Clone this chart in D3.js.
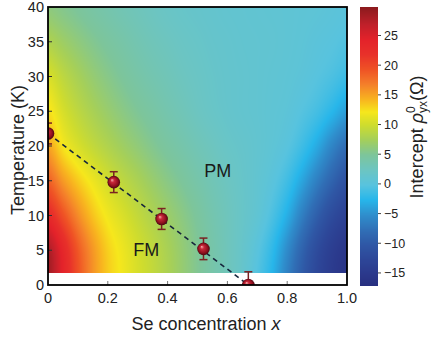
<!DOCTYPE html>
<html>
<head>
<meta charset="utf-8">
<script src="https://cdn.jsdelivr.net/npm/d3@7"></script>
<style>
  html, body { margin: 0; padding: 0; background: #fff; }
  svg { display: block; font-family: "Liberation Sans", Arial, Helvetica, sans-serif; }
</style>
</head>
<body>
<svg id="chart" width="431" height="343"></svg>
<script>
// Se concentration grid (columns) and temperature grid (rows, K)
const concentration = [0, 0.05, 0.1, 0.15, 0.2, 0.25, 0.3, 0.35, 0.4, 0.45, 0.5,
                       0.55, 0.6, 0.65, 0.7, 0.75, 0.8, 0.85, 0.9, 0.95, 1.0];
const temperature = [0, 5, 10, 15, 20, 25, 30, 35, 40];

// Intercept rho_yx^0 (Ohm), one row per temperature
const intercept = [
  [28.5, 24.0, 19.5, 15.8, 13.3, 11.8, 10.4, 9.2, 7.9, 6.5, 5.2, 3.9, 2.9, 1.5, -0.5, -3.0, -6.5, -10.0, -12.8, -14.8, -16.0],
  [28.0, 23.5, 19.0, 15.6, 13.1, 11.6, 10.2, 9.0, 7.7, 6.4, 5.1, 3.9, 2.8, 1.6, 0.0, -2.2, -5.5, -9.0, -12.0, -14.2, -15.5],
  [23.0, 19.5, 16.2, 13.6, 11.8, 10.5, 9.2, 8.0, 6.9, 5.8, 4.7, 3.6, 2.7, 1.8, 0.8, -0.8, -3.2, -6.5, -9.5, -12.0, -13.5],
  [18.5, 15.5, 13.3, 11.6, 10.1, 8.9, 7.8, 6.7, 5.7, 4.8, 3.9, 3.1, 2.4, 1.7, 1.0, 0.1, -1.4, -3.8, -6.5, -9.0, -11.0],
  [15.0, 12.2, 10.5, 9.2, 8.1, 7.1, 6.2, 5.3, 4.5, 3.8, 3.1, 2.5, 1.9, 1.5, 1.1, 0.6, -0.1, -1.5, -3.5, -6.0, -8.0],
  [12.5, 10.4, 8.9, 7.7, 6.7, 5.8, 5.0, 4.3, 3.6, 3.0, 2.4, 1.9, 1.5, 1.2, 1.0, 0.7, 0.4, -0.3, -1.2, -2.6, -4.2],
  [10.5, 8.9, 7.6, 6.5, 5.6, 4.8, 4.1, 3.5, 3.0, 2.5, 2.1, 1.7, 1.4, 1.2, 1.0, 0.8, 0.6, 0.3, -0.2, -0.8, -1.6],
  [8.0, 7.0, 6.1, 5.3, 4.6, 4.0, 3.4, 2.9, 2.5, 2.1, 1.8, 1.5, 1.3, 1.1, 1.0, 0.9, 0.7, 0.5, 0.2, -0.1, -0.5],
  [6.0, 5.4, 4.8, 4.2, 3.7, 3.2, 2.8, 2.4, 2.0, 1.7, 1.5, 1.3, 1.1, 1.0, 0.9, 0.8, 0.7, 0.6, 0.5, 0.3, 0.1]
];
const lowestTemperature = 1.7;   // no data below this temperature

// Curie temperature T_C(x) with error bars
const tcX = [0, 0.22, 0.38, 0.52, 0.67];
const tcT = [21.8, 14.8, 9.5, 5.2, 0];
const tcErr = [1.5, 1.5, 1.5, 1.55, 1.9];

// Linear guide through T_C(x)
const fitX = [0, 0.67];
const fitT = [21.8, 0];

// Axis ticks
const xTicks = [0, 0.2, 0.4, 0.6, 0.8, 1.0];
const xTickLabels = ["0", "0.2", "0.4", "0.6", "0.8", "1.0"];
const yTicks = [0, 5, 10, 15, 20, 25, 30, 35, 40];
const cbTicks = [-15, -10, -5, 0, 5, 10, 15, 20, 25];
const cbDomain = [-17.2, 29.8];

// Colormap stops
const cmapValues = [-17.2, -15.3, -12.8, -10.3, -7.8, -5.2, -2.7, -0.2, 2.3, 4.9, 7.4, 9.9, 12.1, 14.2, 16.7, 19.2, 21.8, 24.3, 26.8, 29.8];
const cmapColors = ["#272f7f", "#2b388b", "#2d4698", "#2f57a5", "#306fb6", "#2f8fcd", "#27b6ea", "#58c3de",
                    "#6cc5c2", "#7dc59a", "#a4cf5a", "#cedc2e", "#f6e71c", "#f8b41f", "#f4802a", "#ef5325",
                    "#e8312a", "#e3222a", "#c0202a", "#8b1a1d"];

const svg = d3.select("#chart");
const plot = { left: 48, right: 347, top: 7, bottom: 285 };
const cb = { left: 360, right: 378, top: 7, bottom: 286 };

const x = d3.scaleLinear().domain([0, 1]).range([plot.left, plot.right]);
const y = d3.scaleLinear().domain([0, 40]).range([plot.bottom, plot.top]);
const color = d3.scaleLinear().domain(cmapValues).range(cmapColors)
  .interpolate(d3.interpolateRgb).clamp(true);

// Catmull-Rom bicubic sampling of the intercept grid
function cubic(p0, p1, p2, p3, t) {
  return 0.5 * (2 * p1 + (-p0 + p2) * t + (2 * p0 - 5 * p1 + 4 * p2 - p3) * t * t
    + (-p0 + 3 * p1 - 3 * p2 + p3) * t * t * t);
}
const nx = concentration.length, ny = temperature.length;
const dxGrid = concentration[1] - concentration[0];
const dyGrid = temperature[1] - temperature[0];
function at(j, i) {
  j = Math.max(0, Math.min(ny - 1, j));
  i = Math.max(0, Math.min(nx - 1, i));
  return intercept[j][i];
}
function sample(xv, tv) {
  const gx = Math.max(0, Math.min(nx - 1 - 1e-9, (xv - concentration[0]) / dxGrid));
  const gy = Math.max(0, Math.min(ny - 1 - 1e-9, (tv - temperature[0]) / dyGrid));
  const i = Math.floor(gx), j = Math.floor(gy);
  const tx = gx - i, ty = gy - j;
  const rows = [];
  for (let k = -1; k <= 2; k++) {
    rows.push(cubic(at(j + k, i - 1), at(j + k, i), at(j + k, i + 1), at(j + k, i + 2), tx));
  }
  return cubic(rows[0], rows[1], rows[2], rows[3], ty);
}

// Heat map raster
const yTopPx = Math.round(y(40)), yBotPx = Math.round(y(lowestTemperature));
const W = plot.right - plot.left, H = yBotPx - yTopPx;
const canvas = document.createElement("canvas");
canvas.width = W; canvas.height = H;
const ctx = canvas.getContext("2d");
const img = ctx.createImageData(W, H);
for (let r = 0; r < H; r++) {
  const tv = y.invert(yTopPx + r + 0.5);
  for (let c = 0; c < W; c++) {
    const xv = x.invert(plot.left + c + 0.5);
    const col = d3.rgb(color(sample(xv, tv)));
    const k = 4 * (r * W + c);
    img.data[k] = col.r; img.data[k + 1] = col.g; img.data[k + 2] = col.b; img.data[k + 3] = 255;
  }
}
ctx.putImageData(img, 0, 0);
svg.append("image")
  .attr("x", plot.left).attr("y", yTopPx).attr("width", W).attr("height", H)
  .attr("preserveAspectRatio", "none")
  .attr("href", canvas.toDataURL());

// Clip for marks inside the frame
const defs = svg.append("defs");
defs.append("clipPath").attr("id", "plotClip").append("rect")
  .attr("x", plot.left).attr("y", plot.top)
  .attr("width", plot.right - plot.left).attr("height", plot.bottom - plot.top);
const grad = defs.append("radialGradient").attr("id", "sphere")
  .attr("cx", "50%").attr("cy", "50%").attr("r", "50%").attr("fx", "35%").attr("fy", "32%");
grad.append("stop").attr("offset", "0%").attr("stop-color", "#f5b3b3");
grad.append("stop").attr("offset", "30%").attr("stop-color", "#c8283a");
grad.append("stop").attr("offset", "75%").attr("stop-color", "#8e0f1e");
grad.append("stop").attr("offset", "100%").attr("stop-color", "#4a0810");

// Axis ticks (inward)
const tickG = svg.append("g");
tickG.selectAll("line.xt").data(xTicks.slice(1, -1)).join("line")
  .attr("x1", d => x(d)).attr("x2", d => x(d))
  .attr("y1", plot.bottom).attr("y2", plot.bottom - 4)
  .attr("stroke", "#777").attr("stroke-width", 1);
tickG.selectAll("line.yt").data(yTicks.slice(1, -1)).join("line")
  .attr("x1", plot.left).attr("x2", plot.left + 4)
  .attr("y1", d => y(d)).attr("y2", d => y(d))
  .attr("stroke", "#333").attr("stroke-width", 1);

// Marks
const marks = svg.append("g").attr("clip-path", "url(#plotClip)");
marks.append("path")
  .attr("d", d3.line().x(d => x(d[0])).y(d => y(d[1]))(fitX.map((v, i) => [v, fitT[i]])))
  .attr("fill", "none").attr("stroke", "#16263d").attr("stroke-width", 1.6)
  .attr("stroke-dasharray", "5,4");

const pts = tcX.map((v, i) => ({ x: v, t: tcT[i], e: tcErr[i] }));
const eb = marks.selectAll("g.err").data(pts).join("g");
eb.append("line")
  .attr("x1", d => x(d.x)).attr("x2", d => x(d.x))
  .attr("y1", d => y(d.t - d.e)).attr("y2", d => y(d.t + d.e))
  .attr("stroke", "#7a2222").attr("stroke-width", 1.5);
eb.append("line")
  .attr("x1", d => x(d.x) - 4).attr("x2", d => x(d.x) + 4)
  .attr("y1", d => y(d.t + d.e)).attr("y2", d => y(d.t + d.e))
  .attr("stroke", "#7a2222").attr("stroke-width", 1.5);
eb.append("line")
  .attr("x1", d => x(d.x) - 4).attr("x2", d => x(d.x) + 4)
  .attr("y1", d => y(d.t - d.e)).attr("y2", d => y(d.t - d.e))
  .attr("stroke", "#7a2222").attr("stroke-width", 1.5);
marks.selectAll("circle").data(pts).join("circle")
  .attr("cx", d => x(d.x)).attr("cy", d => y(d.t)).attr("r", 6.3)
  .attr("fill", "url(#sphere)");

// Phase labels
svg.append("text").attr("x", x(0.568)).attr("y", y(16.5) + 6.5)
  .attr("text-anchor", "middle").attr("font-size", 18).attr("fill", "#1a1a1a").text("PM");
svg.append("text").attr("x", x(0.329)).attr("y", y(5.1) + 6.5)
  .attr("text-anchor", "middle").attr("font-size", 18).attr("fill", "#1a1a1a").text("FM");

// Frame
svg.append("rect")
  .attr("x", plot.left).attr("y", plot.top)
  .attr("width", plot.right - plot.left).attr("height", plot.bottom - plot.top)
  .attr("fill", "none").attr("stroke", "#000").attr("stroke-width", 1.8);

// Tick labels
svg.append("g").selectAll("text").data(xTicks).join("text")
  .attr("x", d => x(d)).attr("y", 303)
  .attr("text-anchor", "middle").attr("font-size", 14.5).attr("fill", "#222")
  .text((d, i) => xTickLabels[i]);
svg.append("g").selectAll("text").data(yTicks).join("text")
  .attr("x", 44).attr("y", d => y(d) + 5.2)
  .attr("text-anchor", "end").attr("font-size", 14.5).attr("fill", "#222")
  .text(d => d);

// Axis titles
const xt = svg.append("text").attr("x", 206).attr("y", 330)
  .attr("text-anchor", "middle").attr("font-size", 18).attr("fill", "#222");
xt.append("tspan").text("Se concentration ");
xt.append("tspan").attr("font-style", "italic").text("x");

svg.append("text").attr("transform", "translate(24,150) rotate(-90)")
  .attr("text-anchor", "middle").attr("font-size", 18).attr("fill", "#222")
  .text("Temperature (K)");

// Colour bar
const cy = d3.scaleLinear().domain(cbDomain).range([cb.bottom, cb.top]);
const cbCanvas = document.createElement("canvas");
const cbH = cb.bottom - cb.top;
cbCanvas.width = 1; cbCanvas.height = cbH;
const cbCtx = cbCanvas.getContext("2d");
for (let r = 0; r < cbH; r++) {
  cbCtx.fillStyle = color(cy.invert(cb.top + r + 0.5));
  cbCtx.fillRect(0, r, 1, 1);
}
svg.append("image")
  .attr("x", cb.left).attr("y", cb.top).attr("width", cb.right - cb.left).attr("height", cbH)
  .attr("preserveAspectRatio", "none")
  .attr("href", cbCanvas.toDataURL());

const cbAxis = svg.append("g");
cbAxis.selectAll("line").data(cbTicks).join("line")
  .attr("x1", cb.right).attr("x2", cb.right + 3)
  .attr("y1", d => cy(d)).attr("y2", d => cy(d))
  .attr("stroke", "#444").attr("stroke-width", 1);
cbAxis.selectAll("text").data(cbTicks).join("text")
  .attr("x", 384).attr("y", d => cy(d) + 4.5)
  .attr("font-size", 12.5).attr("fill", "#222")
  .text(d => d < 0 ? "\u2212" + Math.abs(d) : d);

// Colour bar title: Intercept rho^0_yx (Omega)
const ct = svg.append("text").attr("transform", "translate(423,137) rotate(-90)")
  .attr("text-anchor", "middle").attr("font-size", 18).attr("fill", "#222");
ct.append("tspan").text("Intercept ");
ct.append("tspan").attr("font-style", "italic").text("\u03c1");
ct.append("tspan").attr("font-size", 12).attr("dy", -8).text("0");
ct.append("tspan").attr("font-size", 12).attr("dx", -6.7).attr("dy", 12).text("yx");
ct.append("tspan").attr("dy", -4).text("(\u03a9)");
</script>
</body>
</html>
